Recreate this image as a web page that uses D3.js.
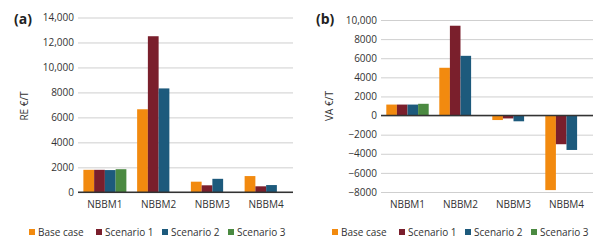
<!DOCTYPE html>
<html>
<head>
<meta charset="utf-8">
<script src="https://cdn.jsdelivr.net/npm/d3@7"></script>
<style>
  body { margin: 0; background: #fff; }
  text { font-family: "Open Sans", sans-serif; }
</style>
</head>
<body>
<svg width="595" height="240"></svg>
<script>
const categories = ["NBBM1", "NBBM2", "NBBM3", "NBBM4"];
const seriesNames = ["Base case", "Scenario 1", "Scenario 2", "Scenario 3"];
const colors = ["#f28a0f", "#7a1f2c", "#1d5a7c", "#4b8a41"];

// RE €/T, panel (a)
const reBase = [1800, 6650, 850, 1300];
const reS1 = [1800, 12500, 560, 480];
const reS2 = [1780, 8320, 1080, 580];
const reS3 = [1850, null, null, null];
const reTicks = [0, 2000, 4000, 6000, 8000, 10000, 12000, 14000];

// VA €/T, panel (b)
const vaBase = [1150, 5000, -470, -7800];
const vaS1 = [1150, 9400, -300, -3000];
const vaS2 = [1150, 6250, -600, -3600];
const vaS3 = [1230, null, null, null];
const vaTicks = [-8000, -6000, -4000, -2000, 0, 2000, 4000, 6000, 8000, 10000];

const svg = d3.select("svg");
const fmt = v => Math.abs(v) >= 10000 ? d3.format(",")(v) : (v < 0 ? "\u2212" + Math.abs(v) : String(v));

function panel(opts) {
    const { left, right, top, bottom, domain, ticks, series, label, title, titleX } = opts;

    const x0 = d3.scaleBand().domain(categories).range([left, right]).padding(0);
    const x1 = d3.scaleBand().domain(seriesNames).range([0, x0.bandwidth()])
        .paddingInner(0).paddingOuter(0.5);
    const y = d3.scaleLinear().domain(domain).range([bottom, top]);

    const g = svg.append("g");

    // gridlines
    g.append("g")
        .attr("transform", `translate(${left},0)`)
        .call(d3.axisLeft(y).tickValues(ticks).tickSize(-(right - left)).tickFormat(fmt))
        .call(a => a.select(".domain").remove())
        .call(a => a.selectAll(".tick line").attr("stroke", "#cfcfcf").attr("stroke-width", 1))
        .call(a => a.selectAll(".tick text")
            .attr("x", -4)
            .attr("font-size", "10px")
            .attr("fill", "#333")
            .attr("font-family", "Open Sans, sans-serif"));

    // bars
    series.forEach((vals, si) => {
        g.append("g").selectAll("rect")
            .data(vals.map((v, i) => ({ cat: categories[i], v })).filter(d => d.v != null))
            .join("rect")
            .attr("x", d => x0(d.cat) + x1(seriesNames[si]))
            .attr("width", x1.bandwidth())
            .attr("y", d => y(Math.max(0, d.v)))
            .attr("height", d => Math.abs(y(d.v) - y(0)))
            .attr("fill", colors[si]);
    });

    // zero line
    g.append("line")
        .attr("x1", left).attr("x2", right)
        .attr("y1", y(0)).attr("y2", y(0))
        .attr("stroke", "#333").attr("stroke-width", 1.5);

    // category labels
    g.append("g")
        .attr("transform", `translate(0,208)`)
        .call(d3.axisBottom(x0).tickSize(0).tickPadding(0))
        .call(a => a.select(".domain").remove())
        .call(a => a.selectAll(".tick text")
            .attr("dy", 0)
            .attr("font-size", "10px")
            .attr("fill", "#333")
            .attr("font-family", "Open Sans, sans-serif"));

    // y title
    g.append("text")
        .attr("transform", `translate(${titleX},106) rotate(-90)`)
        .attr("text-anchor", "middle")
        .attr("dy", "0.35em")
        .attr("font-size", "10px")
        .attr("fill", "#333")
        .text(title);

    // panel label
    g.append("text")
        .attr("x", opts.labelX).attr("y", 24)
        .attr("font-size", "14px")
        .attr("font-weight", "bold")
        .attr("fill", "#222")
        .text(label);

    // legend
    const legendOffsets = [0, 67, 133, 199];
    seriesNames.forEach((name, i) => {
        const lx = opts.legendX + legendOffsets[i];
        g.append("rect")
            .attr("x", lx).attr("y", 229)
            .attr("width", 6).attr("height", 6)
            .attr("fill", colors[i]);
        g.append("text")
            .attr("x", lx + 9).attr("y", 236)
            .attr("font-size", "10px")
            .attr("fill", "#333")
            .text(name);
    });
}

panel({
    left: 78, right: 293, top: 17.5, bottom: 192.3,
    domain: [0, 14000], ticks: reTicks,
    series: [reBase, reS1, reS2, reS3],
    label: "(a)", labelX: 14, title: "RE \u20ac/T", titleX: 24, legendX: 29
});

panel({
    left: 381, right: 593, top: 20, bottom: 192,
    domain: [-8000, 10000], ticks: vaTicks,
    series: [vaBase, vaS1, vaS2, vaS3],
    label: "(b)", labelX: 316, title: "VA \u20ac/T", titleX: 329, legendX: 332
});
</script>
</body>
</html>
